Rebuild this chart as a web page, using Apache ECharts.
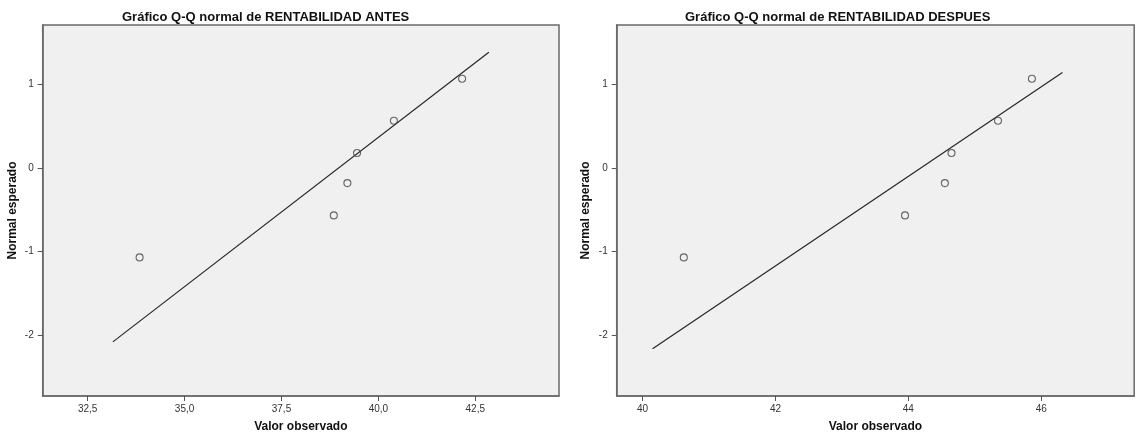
<!DOCTYPE html>
<html>
<head>
<meta charset="utf-8">
<script src="https://cdn.jsdelivr.net/npm/echarts@6/dist/echarts.min.js"></script>
<style>
html,body{margin:0;padding:0;background:#fff;}
#chart{width:1136px;height:438px;}
</style>
</head>
<body>
<div id="chart"></div>
<script>
// ---- data ----
const titleAntes = 'Gráfico Q-Q normal de RENTABILIDAD ANTES';
const titleDespues = 'Gráfico Q-Q normal de RENTABILIDAD DESPUES';
const xName = 'Valor observado';
const yName = 'Normal esperado';

const observedAntes = [33.84, 38.85, 39.20, 39.45, 40.40, 42.16];
const observedDespues = [40.62, 43.95, 44.55, 44.65, 45.35, 45.86];
const expectedNormal = [-1.068, -0.566, -0.180, 0.180, 0.566, 1.068];

// reference line end points [x, y]
const lineAntes = [[33.15, -2.078], [42.85, 1.384]];
const lineDespues = [[40.15, -2.16], [46.32, 1.142]];

const xTicksAntes = [32.5, 35.0, 37.5, 40.0, 42.5];
const xTicksDespues = [40, 42, 44, 46];
const yTicks = [-2, -1, 0, 1];

const xRangeAntes = [31.34, 44.66];
const xRangeDespues = [39.61, 47.40];
const yRange = [-2.725, 1.71];

// ---- chart ----
const FONT = 'Liberation Sans, Arial, sans-serif';
const BORDER = '#6a6a6a';

function pairs(xs, ys) { return xs.map((x, i) => [x, ys[i]]); }

function xAxisCfg(idx, range, ticks, fmt) {
  return {
    type: 'value', gridIndex: idx, min: range[0], max: range[1],
    name: xName, nameLocation: 'middle', nameGap: 25,
    nameTextStyle: { fontFamily: FONT, fontWeight: 'bold', fontSize: 12, color: '#111' },
    axisLine: { show: true, onZero: false, lineStyle: { color: BORDER, width: 1.5 } },
    axisTick: { show: true, length: 5, customValues: ticks, lineStyle: { color: '#555' } },
    axisLabel: { customValues: ticks, margin: 8, fontFamily: FONT, fontSize: 10, color: '#333', formatter: fmt },
    splitLine: { show: false }
  };
}
function yAxisCfg(idx, gap) {
  return {
    type: 'value', gridIndex: idx, min: yRange[0], max: yRange[1],
    name: yName, nameLocation: 'middle', nameGap: gap, nameRotate: 90,
    nameTextStyle: { fontFamily: FONT, fontWeight: 'bold', fontSize: 12, color: '#111' },
    axisLine: { show: true, onZero: false, lineStyle: { color: BORDER, width: 1.5 } },
    axisTick: { show: true, length: 5, customValues: yTicks, lineStyle: { color: '#555' } },
    axisLabel: { customValues: yTicks, margin: 9, fontFamily: FONT, fontSize: 10, color: '#333',
      formatter: v => String(Math.round(v)) },
    splitLine: { show: false }
  };
}

const chart = echarts.init(document.getElementById('chart'), null, { renderer: 'canvas' });
const option = {
  animation: false,
  backgroundColor: '#ffffff',
  title: [
    { text: titleAntes, left: 117, top: 6,
      textStyle: { fontFamily: FONT, fontWeight: 'bold', fontSize: 13, color: '#111' } },
    { text: titleDespues, left: 680, top: 6,
      textStyle: { fontFamily: FONT, fontWeight: 'bold', fontSize: 13, color: '#111' } }
  ],
  grid: [
    { left: 42.7, top: 25, width: 516.3, height: 375, show: true, backgroundColor: '#f0f0f0',
      borderColor: BORDER, borderWidth: 1.5, containLabel: false },
    { left: 616.7, top: 25, width: 517.5, height: 375, show: true, backgroundColor: '#f0f0f0',
      borderColor: BORDER, borderWidth: 1.5, containLabel: false }
  ],
  xAxis: [
    xAxisCfg(0, xRangeAntes, xTicksAntes, v => v.toFixed(1).replace('.', ',')),
    xAxisCfg(1, xRangeDespues, xTicksDespues, v => String(Math.round(v)))
  ],
  yAxis: [ yAxisCfg(0, 24), yAxisCfg(1, 25) ],
  series: [
    { type: 'line', xAxisIndex: 0, yAxisIndex: 0, data: lineAntes, symbol: 'none',
      lineStyle: { color: '#262626', width: 1.2 }, z: 2, silent: true },
    { type: 'scatter', xAxisIndex: 0, yAxisIndex: 0, data: pairs(observedAntes, expectedNormal),
      symbol: 'circle', symbolSize: 7,
      itemStyle: { color: 'rgba(0,0,0,0)', borderColor: '#444', borderWidth: 1.1 }, z: 3 },
    { type: 'line', xAxisIndex: 1, yAxisIndex: 1, data: lineDespues, symbol: 'none',
      lineStyle: { color: '#262626', width: 1.2 }, z: 2, silent: true },
    { type: 'scatter', xAxisIndex: 1, yAxisIndex: 1, data: pairs(observedDespues, expectedNormal),
      symbol: 'circle', symbolSize: 7,
      itemStyle: { color: 'rgba(0,0,0,0)', borderColor: '#444', borderWidth: 1.1 }, z: 3 }
  ]
};
chart.setOption(option);
</script>
</body>
</html>
